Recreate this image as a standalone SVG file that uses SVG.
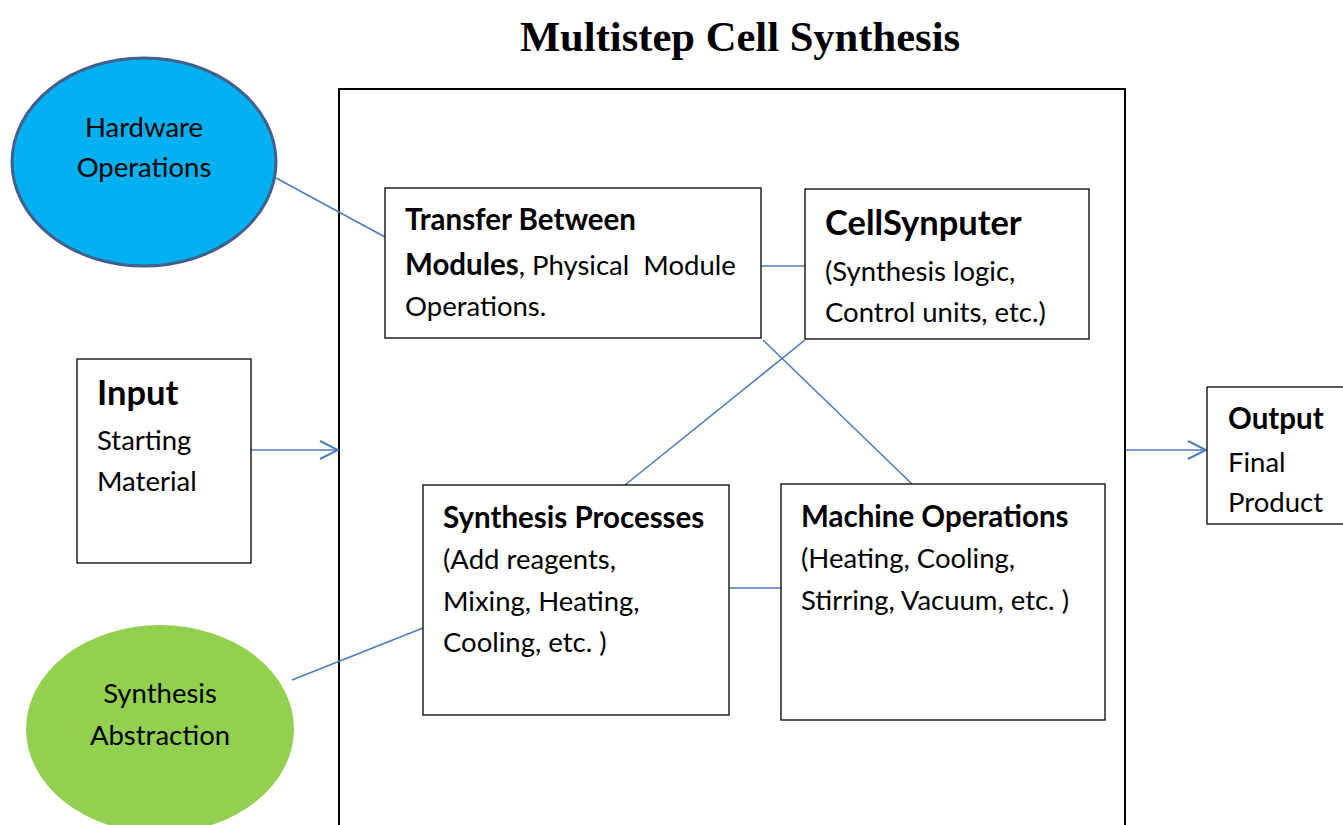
<svg xmlns="http://www.w3.org/2000/svg" width="1343" height="825" viewBox="0 0 1343 825">
<defs>
<style>
.box{fill:#fff;stroke:#000;stroke-width:1.3}
.t{font-family:Lato,"Open Sans",sans-serif;font-size:27.5px;fill:#000}
.b{font-weight:bold;font-size:29.5px}
.big{font-size:34.5px}
.c{text-anchor:middle}
.ln{stroke:#4A7EBB;stroke-width:1.6;fill:none}
</style>
<marker id="arr" viewBox="0 0 20 20" refX="19" refY="10" markerWidth="20" markerHeight="20" markerUnits="userSpaceOnUse" orient="auto">
<path d="M1,1 L19,10 L1,19" fill="none" stroke="#4A7EBB" stroke-width="2"/>
</marker>
</defs>
<rect width="1343" height="825" fill="#fff"/>
<text x="740" y="51" text-anchor="middle" font-family="Liberation Serif,serif" font-weight="bold" font-size="42.6">Multistep Cell Synthesis</text>
<g id="container"><rect x="339" y="89" width="786" height="760" fill="none" stroke="#000" stroke-width="2"/></g>
<g id="connectors">
<line class="ln" x1="276" y1="178" x2="385" y2="237"/>
<line class="ln" x1="761" y1="266" x2="805" y2="266"/>
<line class="ln" x1="805" y1="340" x2="625" y2="485"/>
<line class="ln" x1="763" y1="340" x2="912" y2="484"/>
<line class="ln" x1="729" y1="588" x2="781" y2="588"/>
<line class="ln" x1="292" y1="680" x2="423" y2="628"/>
<line class="ln" x1="251" y1="450" x2="338" y2="450" marker-end="url(#arr)"/>
<line class="ln" x1="1126" y1="450" x2="1206" y2="450" marker-end="url(#arr)"/>
</g>
<g id="hardware">
<ellipse cx="144" cy="162" rx="132" ry="104" fill="#00B0F0" stroke="#41608C" stroke-width="3"/>
<text class="t c" x="144" y="137">Hardware</text>
<text class="t c" x="144" y="177">Operations</text>
</g>
<g id="abstraction">
<ellipse cx="160" cy="729" rx="134" ry="104" fill="#92D050"/>
<text class="t c" x="160" y="703">Synthesis</text>
<text class="t c" x="160" y="745">Abstraction</text>
</g>
<g id="transfer">
<rect class="box" x="385" y="188" width="376" height="150"/>
<text class="t b" x="405" y="230">Transfer Between</text>
<text class="t" x="405" y="275"><tspan class="b">Modules</tspan>, Physical&#160; Module</text>
<text class="t" x="405" y="316">Operations.</text>
</g>
<g id="cellsynputer">
<rect class="box" x="805" y="189" width="284" height="150"/>
<text class="t b big" x="825" y="235">CellSynputer</text>
<text class="t" x="825" y="281">(Synthesis logic,</text>
<text class="t" x="825" y="322">Control units, etc.)</text>
</g>
<g id="input">
<rect class="box" x="77" y="359" width="174" height="204"/>
<text class="t b big" x="97" y="405">Input</text>
<text class="t" x="97" y="450">Starting</text>
<text class="t" x="97" y="491">Material</text>
</g>
<g id="output">
<rect class="box" x="1207" y="387" width="150" height="137"/>
<text class="t b" x="1228" y="429">Output</text>
<text class="t" x="1228" y="472">Final</text>
<text class="t" x="1228" y="512">Product</text>
</g>
<g id="synthesis">
<rect class="box" x="423" y="485" width="306" height="230"/>
<text class="t b" x="443" y="528">Synthesis Processes</text>
<text class="t" x="443" y="569">(Add reagents,</text>
<text class="t" x="443" y="611">Mixing, Heating,</text>
<text class="t" x="443" y="652">Cooling, etc. )</text>
</g>
<g id="machine">
<rect class="box" x="781" y="484" width="324" height="236"/>
<text class="t b" x="801" y="527">Machine Operations</text>
<text class="t" x="801" y="568">(Heating, Cooling,</text>
<text class="t" x="801" y="610">Stirring, Vacuum, etc. )</text>
</g>
</svg>
